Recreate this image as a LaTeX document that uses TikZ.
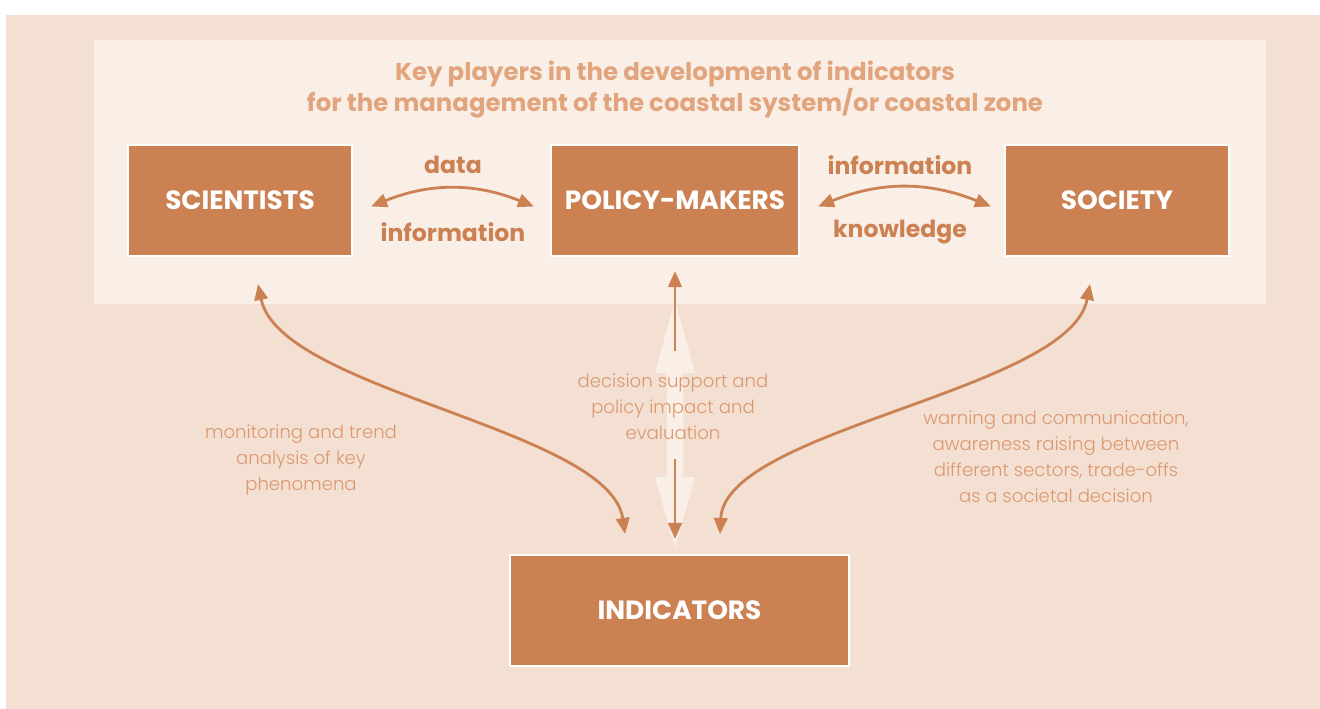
\documentclass[tikz,border=0pt]{standalone}
\usepackage{fontspec}
\setmainfont{Poppins}
\newfontfamily\lightfont{Poppins Light}
\usetikzlibrary{arrows.meta,calc}

\definecolor{outerbg}{HTML}{F3E0D2}
\definecolor{panelbg}{HTML}{FAEFE6}
\definecolor{rust}{HTML}{CC8152}
\definecolor{titlecol}{HTML}{E2A47C}
\definecolor{notecol}{HTML}{DC9870}

\tikzset{
  player/.style={draw=white, line width=1.2pt, fill=rust, text=white,
    font=\bfseries\fontsize{15}{17}\selectfont, minimum height=2.22cm, inner sep=0pt},
  flow/.style={draw=rust, line width=1.6pt,
    {Triangle[length=0.32cm,width=0.27cm]}-{Triangle[length=0.32cm,width=0.27cm]}},
  oneway/.style={draw=rust, line width=1.6pt, -{Triangle[length=0.32cm,width=0.27cm]}},
  flowlabel/.style={text=rust, font=\bfseries\fontsize{13.4}{15}\selectfont},
  note/.style={text=notecol, align=center, font=\lightfont\fontsize{10.3}{14.7}\selectfont}
}

\begin{document}
\begin{tikzpicture}[x=0.02cm, y=0.02cm]
  \useasboundingbox (0,0) rectangle (1320,709);
  \fill[outerbg] (6,0) rectangle (1320,694);
  \fill[panelbg] (94,405) rectangle (1266,669);

  % title
  \node[text=titlecol, align=center, font=\bfseries\fontsize{13.9}{17.6}\selectfont]
    (title) at (675,619) {Key players in the development of indicators\\for the management of the coastal system/or coastal zone};

  % wide light arrow behind the middle
  \fill[panelbg] (675,409) -- (695,336) -- (683,336) -- (683,232) -- (695,232)
    -- (675,161) -- (655,232) -- (667,232) -- (667,336) -- (655,336) -- cycle;

  % the players
  \node[player, minimum width=4.48cm] (sci) at (240,508.5) {SCIENTISTS};
  \node[player, minimum width=4.96cm] (pol) at (675,508.5) {POLICY-MAKERS};
  \node[player, minimum width=4.48cm] (soc) at (1117,508.5) {SOCIETY};
  \node[player, minimum width=6.78cm] (ind) at (679.5,98.5) {INDICATORS};

  % exchanges between the players
  \draw[flow] ($(sci.east)+(18,-6)$) to[bend left=22] ($(pol.west)+(-16,-6)$);
  \node[flowlabel] (data) at (453,544) {data};
  \node[flowlabel] (info1) at (453,477) {information};

  \draw[flow] ($(pol.east)+(18,-6)$) to[bend left=22] ($(soc.west)+(-13,-6)$);
  \node[flowlabel] (info2) at (900,544) {information};
  \node[flowlabel] (know) at (900,477) {knowledge};

  % links to the indicators
  \draw[flow] ($(sci.south)+(18,-27)$) .. controls +(22,-107) and +(-15,105) .. ($(ind.north)+(-54.5,20)$);
  \draw[flow] ($(soc.south)+(-27,-27)$) .. controls +(-20,-107) and +(5,105) .. ($(ind.north)+(40.5,20)$);

  \node[note] (mon) at (301,249) {monitoring and trend\\analysis of key\\phenomena};
  \node[note] (dec) at (673,302) {decision support and\\policy impact and\\evaluation};
  \node[note] (warn) at (1056,252) {warning and communication,\\awareness raising between\\different sectors, trade-offs\\as a societal decision};

  \draw[oneway] ($(pol.south)+(0,-94)$) -- ($(pol.south)+(0,-14)$);
  \draw[oneway] ($(ind.north)+(-4.5,95)$) -- ($(ind.north)+(-4.5,15)$);
\end{tikzpicture}
\end{document}
